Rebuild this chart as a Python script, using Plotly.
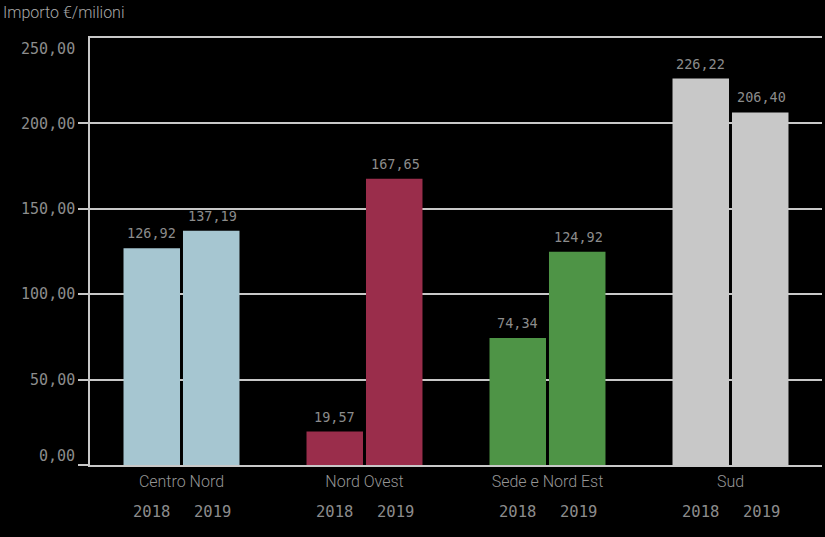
import plotly.graph_objects as go

categories = ["Centro Nord", "Nord Ovest", "Sede e Nord Est", "Sud"]
years = ["2018", "2019"]
values_2018 = [126.92, 19.57, 74.34, 226.22]
values_2019 = [137.19, 167.65, 124.92, 206.40]
colors = ["#a6c6d1", "#9a2d4b", "#4e9446", "#c8c8c8"]
y_ticks = [0, 50, 100, 150, 200, 250]

mono = "DejaVu Sans Mono"
sans = "Roboto"
grey = "#8c8c8c"
line = "#c8c8c8"


def fmt(v):
    return f"{v:.2f}".replace(".", ",")


fig = go.Figure()
series = [values_2018, values_2019]
for yr, vals in zip(years, series):
    fig.add_trace(go.Bar(
        x=categories, y=vals, name=yr,
        marker=dict(color=colors, line=dict(width=0)),
    ))

# value labels above bars and year labels under each bar
for i, cat in enumerate(categories):
    for j, yr in enumerate(years):
        xs = -30.5 if j == 0 else 30.5
        fig.add_annotation(
            x=cat, y=series[j][i], xref="x", yref="y",
            xshift=xs, yshift=15, yanchor="middle",
            text=fmt(series[j][i]), showarrow=False,
            font=dict(family=mono, size=13.5, color=grey),
        )
        fig.add_annotation(
            x=cat, y=0, xref="x", yref="paper",
            xshift=xs, yshift=-47,
            text=yr, showarrow=False, yanchor="middle",
            font=dict(family=mono, size=15.5, color=grey),
        )

# edge tick labels (shifted inside the axis range, as in the original)
inner_ticks = [t for t in y_ticks if t not in (y_ticks[0], y_ticks[-1])]
for t, shift in [(y_ticks[0], 9), (y_ticks[-1], -11)]:
    fig.add_annotation(
        x=0, y=t, xref="paper", yref="y", xanchor="right", yanchor="middle",
        xshift=-13, yshift=shift, text=fmt(t), showarrow=False,
        font=dict(family=mono, size=15, color=grey),
    )

fig.add_annotation(
    x=0, y=1, xref="paper", yref="paper", xshift=-89, yshift=26,
    text="Importo €/milioni", showarrow=False, xanchor="left", yanchor="middle",
    font=dict(family=sans, size=16, color="#a8a8a8", weight=300),
)

fig.update_layout(
    width=825, height=537,
    paper_bgcolor="black", plot_bgcolor="black",
    margin=dict(l=90, r=3, t=38, b=72),
    barmode="group", bargap=0.35, bargroupgap=0.05,
    showlegend=False,
    separators=",.",
    xaxis=dict(
        type="category", showgrid=False, showline=True, linecolor=line, linewidth=1.5,
        mirror=True,
        ticks="", tickfont=dict(family=sans, size=16, color="#959595", weight=300),
        ticklabelstandoff=1,
        zeroline=False,
    ),
    yaxis=dict(
        range=[0, 250], tickvals=[y_ticks[0]] + inner_ticks,
        ticktext=[""] + [fmt(t) for t in inner_ticks],
        showgrid=True, gridcolor=line, gridwidth=1.5,
        showline=True, linecolor=line, linewidth=1.5,
        ticks="outside", ticklen=10, tickcolor=line, tickwidth=1.5,
        tickfont=dict(family=mono, size=15, color=grey),
        zeroline=False,
    ),
)

fig.write_html("out.html")
